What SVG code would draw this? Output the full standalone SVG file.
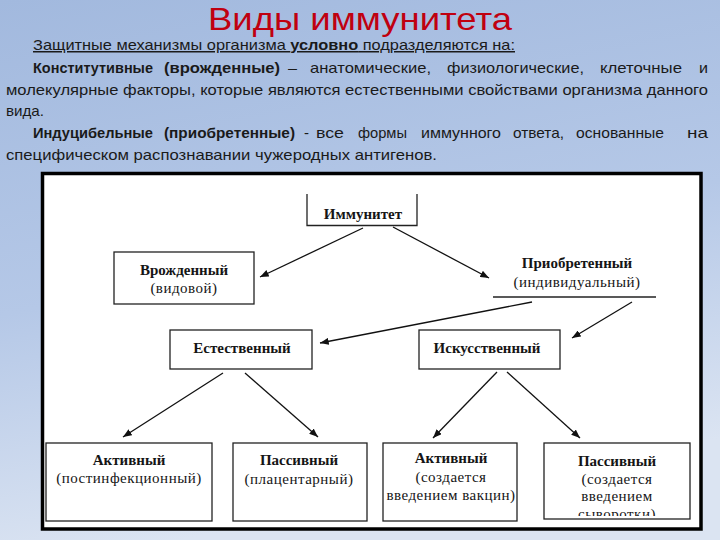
<svg xmlns="http://www.w3.org/2000/svg" width="720" height="540" viewBox="0 0 720 540">
<defs>
<linearGradient id="bg" x1="0" y1="0" x2="0.25" y2="1">
<stop offset="0" stop-color="#a2b9de"/>
<stop offset="0.55" stop-color="#b5c8e7"/>
<stop offset="1" stop-color="#dbe4f2"/>
</linearGradient>
<marker id="ah" viewBox="0 0 10 8" refX="10" refY="4" markerWidth="9" markerHeight="7" markerUnits="userSpaceOnUse" orient="auto">
<path d="M0,0 L10,4 L0,8 z" fill="#111"/>
</marker>
<clipPath id="clipP2"><rect x="544" y="443" width="146" height="73"/></clipPath>
</defs>
<style>
.title{font-family:"Liberation Sans","Open Sans",sans-serif;font-size:32px;fill:#c00010}
.body{font-family:"Liberation Sans","Open Sans",sans-serif;font-size:15px;fill:#1a1a1a}
.b{font-weight:bold}
.box{fill:#fff;stroke:#222;stroke-width:1.3}
.bl{fill:none;stroke:#222;stroke-width:1.3}
.t1{font-family:"Liberation Serif","Times New Roman",serif;font-size:15px;font-weight:bold;fill:#151515;text-anchor:middle}
.t2{font-family:"Liberation Serif","Times New Roman",serif;font-size:15px;fill:#151515;text-anchor:middle;letter-spacing:0.5px}
.conn line{stroke:#111;stroke-width:1.3;marker-end:url(#ah)}
</style>
<rect x="0" y="0" width="720" height="540" fill="url(#bg)"/>

<g id="header">
<text class="title" x="208" y="30" textLength="304" lengthAdjust="spacingAndGlyphs">Виды иммунитета</text>
<text class="body" x="33" y="50" textLength="482" lengthAdjust="spacingAndGlyphs" text-decoration="underline">Защитные механизмы организма <tspan class="b">условно</tspan> подразделяются на:</text>
<text class="body b" x="33" y="73" textLength="120" lengthAdjust="spacingAndGlyphs">Конститутивные</text>
<text class="body b" x="164" y="73" textLength="116" lengthAdjust="spacingAndGlyphs">(врожденные)</text>
<text class="body" x="288" y="73" textLength="9" lengthAdjust="spacingAndGlyphs">–</text>
<text class="body" x="310" y="73" textLength="121" lengthAdjust="spacingAndGlyphs">анатомические,</text>
<text class="body" x="447" y="73" textLength="137" lengthAdjust="spacingAndGlyphs">физиологические,</text>
<text class="body" x="600" y="73" textLength="82" lengthAdjust="spacingAndGlyphs">клеточные</text>
<text class="body" x="699" y="73" textLength="9" lengthAdjust="spacingAndGlyphs">и</text>
<text class="body" x="6" y="95" textLength="702" lengthAdjust="spacingAndGlyphs">молекулярные факторы, которые являются естественными свойствами организма данного</text>
<text class="body" x="6" y="116" textLength="38" lengthAdjust="spacingAndGlyphs">вида.</text>
<text class="body b" x="33" y="138" textLength="120" lengthAdjust="spacingAndGlyphs">Индуцибельные</text>
<text class="body b" x="164" y="138" textLength="131" lengthAdjust="spacingAndGlyphs">(приобретенные)</text>
<text class="body" x="304" y="138" textLength="5" lengthAdjust="spacingAndGlyphs">-</text>
<text class="body" x="316" y="138" textLength="28" lengthAdjust="spacingAndGlyphs">все</text>
<text class="body" x="358" y="138" textLength="49" lengthAdjust="spacingAndGlyphs">формы</text>
<text class="body" x="421" y="138" textLength="80" lengthAdjust="spacingAndGlyphs">иммунного</text>
<text class="body" x="513" y="138" textLength="51" lengthAdjust="spacingAndGlyphs">ответа,</text>
<text class="body" x="576" y="138" textLength="88" lengthAdjust="spacingAndGlyphs">основанные</text>
<text class="body" x="687" y="138" textLength="21" lengthAdjust="spacingAndGlyphs">на</text>
<text class="body" x="6" y="160" textLength="431" lengthAdjust="spacingAndGlyphs">специфическом распознавании чужеродных антигенов.</text>
</g>

<rect id="frame" x="42.5" y="173.5" width="658.5" height="355.5" fill="#fff" stroke="#000" stroke-width="3.5"/>

<g id="n-immunity">
<path class="bl" d="M307,194 V225.5 H417 V194"/>
<text class="t1" x="363" y="219" font-size="16">Иммунитет</text>
</g>
<g id="n-innate">
<rect class="box" x="114" y="252" width="140" height="52"/>
<text class="t1" x="184" y="275">Врожденный</text>
<text class="t2" x="184" y="293">(видовой)</text>
</g>
<g id="n-acquired">
<line class="bl" x1="493" y1="297" x2="656" y2="297"/>
<text class="t1" x="577" y="268">Приобретенный</text>
<text class="t2" x="577" y="287">(индивидуальный)</text>
</g>
<g id="n-natural">
<rect class="box" x="170" y="330" width="142" height="39"/>
<text class="t1" x="242" y="353">Естественный</text>
</g>
<g id="n-artificial">
<rect class="box" x="419" y="330" width="141" height="39"/>
<text class="t1" x="487" y="353">Искусственный</text>
</g>
<g id="n-nat-active">
<rect class="box" x="46" y="443" width="166" height="78"/>
<text class="t1" x="129" y="465">Активный</text>
<text class="t2" x="129" y="483">(постинфекционный)</text>
</g>
<g id="n-nat-passive">
<rect class="box" x="233" y="443" width="134" height="78"/>
<text class="t1" x="299" y="465">Пассивный</text>
<text class="t2" x="299" y="484">(плацентарный)</text>
</g>
<g id="n-art-active">
<rect class="box" x="383" y="443" width="134" height="78"/>
<text class="t1" x="451" y="463">Активный</text>
<text class="t2" x="451" y="482">(создается</text>
<text class="t2" x="451" y="500">введением вакцин)</text>
</g>
<g id="n-art-passive">
<rect class="box" x="544" y="443" width="146" height="76"/>
<g clip-path="url(#clipP2)">
<text class="t1" x="617" y="466">Пассивный</text>
<text class="t2" x="617" y="484">(создается</text>
<text class="t2" x="617" y="501">введением</text>
<text class="t2" x="617" y="519">сыворотки)</text>
</g>
</g>

<g id="connectors" class="conn">
<line x1="363" y1="228" x2="260" y2="277"/>
<line x1="393" y1="227" x2="489" y2="278"/>
<line x1="532" y1="302" x2="320" y2="343"/>
<line x1="632" y1="302" x2="572" y2="338"/>
<line x1="223" y1="373" x2="123" y2="437"/>
<line x1="245" y1="373" x2="318" y2="437"/>
<line x1="497" y1="372" x2="433" y2="438"/>
<line x1="507" y1="372" x2="580" y2="438"/>
</g>
</svg>
